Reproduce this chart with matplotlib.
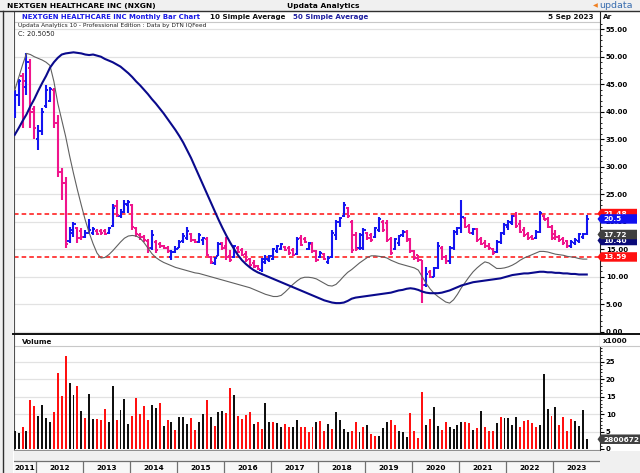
import numpy as np
import matplotlib
matplotlib.use("Agg")
import matplotlib.pyplot as plt
from matplotlib.patches import Rectangle, Polygon
from matplotlib.lines import Line2D

plt.rcParams['font.family'] = 'DejaVu Sans'

# monthly bars, first bar = Jul 2011, last = Sep 2023
opens = [40.0, 43.0, 46.5, 44.5, 48.0, 40.5, 35.0, 36.5, 41.0, 42.0, 44.0, 38.0, 29.0, 27.0, 16.5, 18.0, 18.8, 18.3,
         17.3, 18.0, 18.0, 18.3, 18.4, 18.4, 18.0, 19.3, 22.8, 21.0, 21.8, 23.0, 23.0, 18.8, 17.6, 17.2, 16.5, 15.3,
         16.4, 16.0, 15.6, 15.3, 13.5, 14.5, 15.3, 16.5, 17.0, 17.8, 16.7, 16.3, 16.6, 16.8, 13.6, 12.5, 13.8, 16.2,
         15.5, 13.8, 13.5, 15.3, 14.8, 14.2, 13.2, 12.5, 12.0, 11.2, 12.6, 13.0, 13.3, 14.6, 15.0, 15.4, 15.2, 14.8,
         14.2, 17.0, 16.8, 15.1, 16.0, 14.6, 13.6, 14.1, 12.6, 13.5, 17.5, 20.0, 21.0, 22.5, 20.0, 17.6, 15.2, 15.3,
         18.0, 17.6, 17.2, 18.5, 20.0, 19.8, 16.8, 15.0, 16.2, 17.5, 18.2, 16.8, 14.6, 13.9, 13.0, 8.5, 10.8, 10.0,
         11.5, 15.3, 13.6, 12.8, 15.2, 18.2, 18.9, 20.6, 19.2, 18.0, 18.6, 16.8, 16.2, 15.6, 15.0, 14.5, 16.3, 17.9,
         19.0, 19.8, 21.0, 19.5, 18.5, 17.8, 17.3, 17.0, 18.2, 21.0, 20.5, 19.0, 17.8, 17.3, 16.9, 16.5, 15.5, 16.2,
         16.5, 17.2, 17.8]
highs = [44.0, 46.0, 47.0, 50.6, 49.5, 41.0, 37.6, 40.6, 44.8, 44.5, 44.3, 39.4, 29.7, 28.1, 19.0, 20.0, 19.1, 18.8,
         18.5, 20.5, 19.0, 18.6, 18.6, 18.6, 19.1, 23.3, 23.9, 22.3, 23.9, 23.9, 23.3, 19.1, 17.9, 17.6, 16.9, 18.5,
         16.7, 16.4, 15.8, 15.5, 14.8, 15.5, 16.7, 17.9, 19.1, 17.9, 16.9, 17.9, 17.3, 17.3, 13.7, 13.6, 16.4, 16.4,
         17.3, 14.9, 15.8, 15.5, 15.2, 14.6, 13.4, 13.0, 12.1, 13.4, 14.0, 14.0, 15.2, 15.8, 16.1, 15.5, 15.5, 15.2,
         17.3, 17.6, 17.3, 16.4, 16.4, 14.9, 14.6, 14.3, 13.7, 18.5, 20.3, 20.9, 23.6, 22.7, 20.3, 18.2, 17.9, 18.8,
         18.2, 17.9, 19.1, 20.9, 20.3, 20.3, 17.3, 17.0, 17.6, 18.5, 18.5, 17.0, 14.9, 14.0, 13.0, 11.8, 11.2, 11.8,
         16.4, 15.5, 14.0, 15.5, 18.5, 19.1, 23.9, 20.9, 19.5, 18.8, 18.8, 17.3, 16.7, 16.1, 15.2, 16.7, 18.2, 19.7,
         20.3, 21.2, 21.8, 20.3, 19.1, 18.2, 17.6, 18.5, 22.0, 21.2, 20.9, 19.4, 18.5, 17.6, 17.3, 16.7, 16.7, 17.0,
         18.0, 17.9, 21.2]
lows = [38.8, 41.0, 37.0, 43.0, 37.0, 35.0, 33.0, 35.8, 40.6, 41.8, 37.0, 28.1, 24.0, 15.2, 16.1, 17.2, 16.1, 16.6,
        17.0, 17.9, 17.5, 17.6, 17.6, 17.6, 17.8, 19.1, 20.9, 20.7, 21.5, 21.5, 18.5, 17.3, 16.7, 16.4, 14.3, 14.9,
        14.3, 15.3, 15.0, 14.3, 13.0, 14.3, 15.2, 16.1, 16.7, 16.4, 16.1, 16.1, 15.8, 13.7, 12.4, 12.1, 13.7, 14.9,
        13.0, 12.7, 13.4, 14.3, 13.7, 12.7, 11.8, 11.5, 11.2, 10.9, 12.4, 12.7, 13.0, 14.3, 14.9, 14.6, 14.0, 13.7,
        14.0, 15.5, 16.1, 14.9, 14.3, 12.7, 13.4, 13.0, 12.4, 13.4, 16.7, 19.1, 20.9, 20.6, 14.3, 14.6, 14.9, 14.9,
        16.7, 16.4, 17.0, 18.2, 18.2, 16.4, 14.0, 14.9, 15.5, 17.3, 16.4, 14.3, 13.0, 12.7, 5.2, 8.2, 9.7, 9.9,
        11.4, 13.0, 12.4, 12.4, 14.9, 17.6, 18.0, 18.8, 17.9, 17.6, 16.4, 15.8, 15.2, 14.9, 14.0, 14.3, 16.0, 17.6,
        18.5, 19.4, 18.8, 17.9, 17.3, 16.7, 16.7, 16.9, 17.9, 20.3, 18.8, 16.7, 16.7, 16.4, 15.8, 15.2, 15.2, 15.8,
        16.2, 16.9, 17.6]
closes = [43.0, 45.5, 45.5, 49.0, 40.0, 37.0, 36.5, 40.0, 44.0, 44.2, 38.0, 29.0, 27.0, 16.0, 18.5, 19.5, 17.0, 17.2,
          18.0, 18.5, 18.6, 17.8, 17.9, 17.8, 18.8, 22.5, 21.2, 21.8, 23.3, 23.5, 19.1, 17.8, 17.2, 16.6, 15.2, 17.6,
          14.8, 15.6, 15.2, 14.6, 14.5, 15.1, 16.4, 17.4, 18.3, 16.7, 16.3, 17.6, 17.0, 14.0, 12.6, 13.4, 16.0, 15.2,
          13.5, 13.1, 15.5, 14.5, 14.0, 13.0, 12.2, 11.8, 11.4, 13.2, 13.3, 13.8, 15.0, 15.6, 15.9, 14.8, 14.3, 14.0,
          16.9, 15.8, 16.3, 16.1, 14.6, 13.0, 14.3, 13.3, 13.4, 18.0, 20.0, 20.6, 23.0, 21.0, 14.8, 15.0, 17.6, 18.5,
          17.0, 16.6, 18.8, 20.5, 18.5, 16.7, 14.3, 16.8, 17.4, 18.2, 16.7, 14.6, 13.4, 13.0, 8.5, 10.5, 10.0, 11.5,
          15.5, 13.5, 12.8, 15.2, 18.2, 18.9, 20.9, 19.0, 18.0, 18.6, 16.6, 16.0, 15.5, 15.2, 14.3, 16.4, 17.9, 19.4,
          20.0, 21.0, 19.2, 18.2, 17.6, 17.0, 16.9, 18.2, 21.5, 20.4, 19.0, 17.0, 17.2, 16.7, 16.2, 15.5, 16.4, 16.6,
          17.8, 17.7, 20.5]

avg10 = [43.9, 46.2, 48.5, 50.6, 50.4, 50.0, 49.7, 49.4, 49.0, 48.4, 45.5, 41.5, 38.5, 35.5, 32.0, 28.8, 25.8, 23.0,
         20.3, 18.0, 16.0, 14.3, 13.4, 13.5, 14.0, 14.7, 15.5, 16.3, 17.0, 17.4, 17.5, 17.4, 17.0, 16.2, 15.2, 14.2,
         13.5, 13.0, 12.6, 12.3, 12.0, 11.7, 11.5, 11.3, 11.1, 10.9, 10.7, 10.6, 10.4, 10.2, 10.0, 9.8, 9.6, 9.4,
         9.2, 9.0, 8.8, 8.6, 8.4, 8.2, 8.0, 7.7, 7.4, 7.1, 6.8, 6.6, 6.4, 6.4, 6.6, 7.2, 7.9, 8.6,
         9.2, 9.7, 9.9, 9.9, 9.8, 9.6, 9.2, 8.8, 8.4, 8.3, 8.6, 9.3, 10.1, 10.8, 11.3, 11.9, 12.5, 13.0,
         13.5, 13.8, 13.8, 13.7, 13.6, 13.4, 13.0, 12.7, 12.4, 12.2, 12.0, 11.8, 11.6, 11.2, 10.0, 8.8, 7.8, 7.0,
         6.4, 5.9, 5.4, 5.2, 5.8, 6.8, 8.0, 9.0, 10.0, 10.9, 11.6, 12.2, 12.7, 12.5, 12.0, 11.5, 11.5, 11.6,
         11.8, 12.1, 12.5, 13.0, 13.4, 13.7, 14.0, 14.3, 14.6, 14.6, 14.5, 14.3, 14.1, 14.0, 13.9, 13.7, 13.6, 13.5,
         13.3, 13.2, 13.2]
avg50 = [35.8, 37.0, 38.3, 39.5, 41.0, 42.3, 43.8, 45.2, 46.5, 48.0, 49.0, 49.8, 50.4,
         50.6, 50.7, 50.8, 50.7, 50.6, 50.4, 50.3, 50.4, 50.2, 50.0, 49.6, 49.3, 49.0,
         48.6, 48.2, 47.6, 47.0, 46.3, 45.5, 44.8, 44.0, 43.2, 42.3, 41.5, 40.6, 39.7,
         38.7, 37.7, 36.7, 35.6, 34.4, 33.0, 31.6, 30.0, 28.4, 26.8, 25.2, 23.6, 22.0,
         20.4, 18.9, 17.5, 16.2, 15.0, 13.9, 13.0, 12.3, 11.7, 11.2, 10.8, 10.5, 10.2,
         9.9, 9.6, 9.3, 9.0, 8.7, 8.4, 8.1, 7.8, 7.5, 7.2, 6.9, 6.6, 6.3,
         6.0, 5.7, 5.5, 5.3, 5.2, 5.2, 5.3, 5.6, 6.0, 6.2, 6.3, 6.4, 6.5,
         6.6, 6.7, 6.8, 6.9, 7.0, 7.1, 7.3, 7.5, 7.6, 7.8, 7.9, 7.8, 7.6,
         7.3, 7.1, 7.0, 7.0, 7.0, 7.1, 7.3, 7.5, 7.8, 8.1, 8.4, 8.6, 8.8,
         9.0, 9.1, 9.2, 9.3, 9.4, 9.5, 9.6, 9.7, 9.9, 10.1, 10.3, 10.4, 10.5,
         10.6, 10.6, 10.7, 10.8, 10.9, 10.9, 10.8, 10.8, 10.7, 10.7, 10.6, 10.6, 10.5,
         10.5, 10.4, 10.4, 10.4]

# volume in millions (axis shows x1000 of thousands)
volume = [5.2, 4.5, 6.2, 5.2, 14.1, 12.2, 9.5, 12.7, 8.8, 7.7, 10.5, 21.7, 15.3, 26.7, 18.9, 15.5, 18.1, 10.9,
          8.8, 15.8, 8.6, 8.6, 8.4, 11.5, 7.7, 18.1, 8.4, 11.2, 14.3, 7.2, 9.5, 14.7, 10.1, 12.2, 8.4, 12.5,
          11.7, 13.1, 6.6, 8.4, 7.6, 5.5, 9.3, 9.3, 7.2, 8.8, 5.5, 7.6, 10.1, 14.1, 9.1, 6.6, 10.5, 10.9,
          10.3, 17.4, 15.5, 9.5, 8.6, 9.7, 10.5, 7.1, 7.7, 5.7, 13.1, 7.8, 7.8, 7.4, 6.2, 7.1, 6.2, 6.4,
          8.3, 6.3, 6.3, 4.9, 6.3, 7.8,
          8.1, 5.2, 7.2, 5.8, 10.7, 8.3, 5.8, 4.8, 5.3, 7.7, 5.0, 6.4, 7.0, 4.3, 3.6, 3.8, 5.9, 7.8,
          8.3, 6.8, 5.2, 4.9, 3.4, 10.2, 5.3, 3.1, 16.2, 7.0, 8.6, 11.9, 6.5, 5.5, 7.8, 6.4, 5.6, 7.0,
          7.6, 7.8, 7.4, 5.5, 5.9, 10.8, 6.2, 5.3, 5.3, 7.4, 9.1, 8.8, 8.8, 6.8, 9.3, 6.2, 8.1, 8.4,
          7.4, 6.2, 7.0, 21.4, 11.6, 9.5, 12.0, 7.0, 9.1, 5.3, 8.6, 7.9, 6.6, 11.2, 2.8]
vol_colors = ("bbrbrrbbbb" "rrrrbbrbrb" "brrrbbrbbb" "rrrrrbbrbr" "brbbbrrbbr" "brbbrrbrrr" "rbrrbbrbbr" "rbbrrrrb"
              "rrbrbbbbrr" "brbrrbbbrr" "bbbrrrrbrb" "brrbbbbrrb" "rbrrrbrbbb" "brrrrrbbbr" "brrrrbbbb")

years = list(range(2011, 2024))
support, resistance = 13.59, 21.48
last_close = 20.5

W, H = 640, 473
BLUE = '#1414F0'
PINK = '#F0148C'
NAVY = '#0A0A8C'


def fx(px):
    return px / W


def fy(py):
    return 1 - py / H


fig = plt.figure(figsize=(6.4, 4.73), dpi=100)
fig.patch.set_facecolor('white')

L, R = 13.5, 599.5
xmin, xmax = -0.31, 149.25

# price panel
ax1 = fig.add_axes([fx(L), fy(333), fx(R) - fx(L), (333 - 12) / H])
ax1.set_xlim(xmin, xmax)
ax1.set_ylim(-0.236, 58.13)
ax1.set_facecolor('white')

n = len(closes)
x = np.arange(n)
cols = [BLUE if closes[i] >= opens[i] else PINK for i in range(n)]
ax1.vlines(x, lows, highs, colors=cols, lw=1.5, zorder=3)
ax1.hlines(opens, x - 0.55, x, colors=cols, lw=1.4, zorder=3)
ax1.hlines(closes, x, x + 0.55, colors=cols, lw=1.4, zorder=3)

ax1.plot(np.arange(len(avg10)), avg10, color='#606060', lw=0.8, zorder=4)
ax1.plot(np.arange(len(avg50)), avg50, color=NAVY, lw=1.5, zorder=4)

ax1.axhline(resistance, color='#FF1010', lw=1.1, ls=(0, (3, 2)), zorder=2)
ax1.axhline(support, color='#FF1010', lw=1.1, ls=(0, (3, 2)), zorder=2)
ax1.axhline((331.7 - 22) / 5.5, color='#C8C8C8', lw=0.8)

ticks = list(range(0, 56, 5))
for t in ticks:
    ax1.axhline(t, color='#E2E2E2', lw=0.9, zorder=1)
ax1.yaxis.tick_right()
ax1.set_yticks(ticks)
ax1.set_yticklabels(['%.2f' % t for t in ticks], fontsize=5, fontweight='bold')
ax1.set_yticks(np.arange(0, 57, 1), minor=True)
ax1.tick_params(axis='y', which='major', direction='out', length=3, width=0.8, pad=1.5)
ax1.tick_params(axis='y', which='minor', direction='out', length=1.2, width=0.6)
ax1.set_xticks([])
for s in ['top', 'bottom']:
    ax1.spines[s].set_visible(False)
ax1.spines['left'].set_color('#505050')
ax1.spines['right'].set_color('#202020')
ax1.spines['left'].set_linewidth(0.8)
ax1.spines['right'].set_linewidth(0.8)

# volume panel
ax2 = fig.add_axes([fx(L), fy(450), fx(R) - fx(L), (450 - 334) / H])
ax2.set_xlim(xmin, xmax)
ax2.set_ylim(-0.287, 32.95)
vc = ['#FF1010' if c == 'r' else '#101010' for c in vol_colors]
ax2.bar(np.arange(len(volume)), volume, width=0.5, color=vc, zorder=3)
vticks = list(range(0, 26, 5))
for t in vticks[1:]:
    ax2.axhline(t, color='#E2E2E2', lw=0.9, zorder=1)
ax2.axhline((449 - 346) / 3.49, color='#C8C8C8', lw=0.8)
ax2.yaxis.tick_right()
ax2.set_yticks(vticks)
ax2.set_yticklabels([str(t) for t in vticks], fontsize=5, fontweight='bold')
ax2.set_yticks(np.arange(0, 30, 1), minor=True)
ax2.tick_params(axis='y', which='major', direction='out', length=3, width=0.8, pad=1.5)
ax2.tick_params(axis='y', which='minor', direction='out', length=1.2, width=0.6)
ax2.set_xticks([])
ax2.spines['top'].set_visible(False)
ax2.spines['bottom'].set_color('#909090')
ax2.spines['left'].set_color('#505050')
ax2.spines['right'].set_color('#202020')
for s in ['left', 'right', 'bottom']:
    ax2.spines[s].set_linewidth(0.8)

# date strip
ax3 = fig.add_axes([fx(L), 0, fx(R) - fx(L), (473 - 450.5) / H])
ax3.set_xlim(xmin, xmax)
ax3.set_ylim(22.5, 0)
ax3.axis('off')
ax3.add_patch(Rectangle((xmin, 0), xmax - xmin, 10.5, facecolor='#F0F0F0', edgecolor='none'))
ax3.add_patch(Rectangle((xmin, 10.5), xmax - xmin, 12, facecolor='#F7F7F7', edgecolor='none'))
ax3.axhline(10.5, color='#707070', lw=0.9)
for k, yr in enumerate(years):
    b0 = (yr - 2011) * 12 - 6.5
    b1 = b0 + 12
    if b0 > xmin:
        ax3.vlines(b0, 10.5, 22.5, color='#707070', lw=0.9)
    c = (max(b0, xmin) + min(b1, xmax)) / 2
    ax3.text(c, 17, str(yr), ha='center', va='center', fontsize=5.3, fontweight='bold')

# frame pieces
fig.add_artist(Rectangle((0, fy(11.5)), 1, 11.5 / H, transform=fig.transFigure,
                         facecolor='#F0F0F0', edgecolor='none', zorder=0))
fig.add_artist(Rectangle((0, 0), fx(13), 1, transform=fig.transFigure,
                         facecolor='#F0F0F0', edgecolor='none', zorder=0))
fig.add_artist(Rectangle((fx(599.5), 0), 1, (473 - 450.5) / H, transform=fig.transFigure,
                         facecolor='#F0F0F0', edgecolor='none', zorder=0))
fig.add_artist(Line2D([0, 1], [fy(11.5), fy(11.5)], color='#303030', lw=1.0, zorder=2))
fig.add_artist(Line2D([fx(3), fx(3)], [0, fy(11.5)], color='#303030', lw=1.0, zorder=2))
fig.add_artist(Rectangle((fx(600), fy(346)), fx(40), 11.5 / H, transform=fig.transFigure,
                         facecolor='white', edgecolor='none', zorder=3))
fig.add_artist(Line2D([fx(13), 1], [fy(334), fy(334)], color='#101010', lw=1.4, zorder=4))
fig.add_artist(Line2D([fx(600), 1], [fy(346), fy(346)], color='#C8C8C8', lw=0.8, zorder=4))

# titles
fig.text(fx(7), fy(5.8), 'NEXTGEN HEALTHCARE INC (NXGN)', fontsize=5.4, fontweight='bold', va='center')
fig.text(fx(287), fy(5.8), 'Updata Analytics', fontsize=5.4, fontweight='bold', va='center')
fig.text(fx(593), fy(5.8), '\u25C0', fontsize=4.5, color='#F08020', va='center', ha='left')
fig.text(fx(599), fy(5.5), 'updata', fontsize=6.8, color='#3A6EB0', va='center', ha='left')
fig.text(fx(22), fy(17), 'NEXTGEN HEALTHCARE INC Monthly Bar Chart', fontsize=4.95, fontweight='bold',
         color='#1A1AE6', va='center')
fig.text(fx(210), fy(17), '10 Simple Average', fontsize=5.1, fontweight='bold', color='#101010', va='center')
fig.text(fx(293), fy(17), '50 Simple Average', fontsize=5.1, fontweight='bold', color='#2020A0', va='center')
fig.text(fx(593), fy(17), '5 Sep 2023', fontsize=5.2, fontweight='bold', color='#101010', va='center', ha='right')
fig.text(fx(603), fy(17), 'Ar', fontsize=5.2, fontweight='bold', color='#101010', va='center')
fig.text(fx(18), fy(25.5), 'Updata Analytics 10 - Professional Edition : Data by DTN IQFeed', fontsize=4.2,
         color='#202020', va='center')
fig.text(fx(18), fy(34), 'C: %.4f' % 20.505, fontsize=4.8, color='#202020', va='center')
fig.text(fx(22), fy(342), 'Volume', fontsize=5.2, fontweight='bold', color='#101010', va='center', zorder=5)
fig.text(fx(603), fy(340.5), 'x1000', fontsize=5.2, fontweight='bold', color='#101010', va='center', zorder=5)


# value tags on the right axis
def tag(ypx, text, color, z, x1=637):
    h = 9.5
    pts = [(597.5, ypx), (601, ypx - h / 2), (x1, ypx - h / 2), (x1, ypx + h / 2), (601, ypx + h / 2)]
    fig.add_artist(Polygon([(fx(a), fy(b)) for a, b in pts], closed=True, transform=fig.transFigure,
                           facecolor=color, edgecolor='none', zorder=z))
    fig.text(fx(603), fy(ypx + 0.3), text, color='white', fontsize=5.3, fontweight='bold',
             va='center', ha='left', zorder=z + 0.5)


def price_px(v):
    return 331.7 - 5.5 * v


tag(price_px(resistance), '%.2f' % resistance, '#FF1010', 5)
tag(price_px(last_close), '20.5', '#1010F0', 6)
tag(240.5, '%.2f' % avg50[-1], '#0A0A78', 7)
tag(234.5, '17.72', '#404040', 8)
tag(price_px(support), '%.2f' % support, '#FF1010', 9)
tag(449 - 3.49 * volume[-1], '2800672', '#404040', 10, x1=641)

fig.savefig('out.png', dpi=100)
